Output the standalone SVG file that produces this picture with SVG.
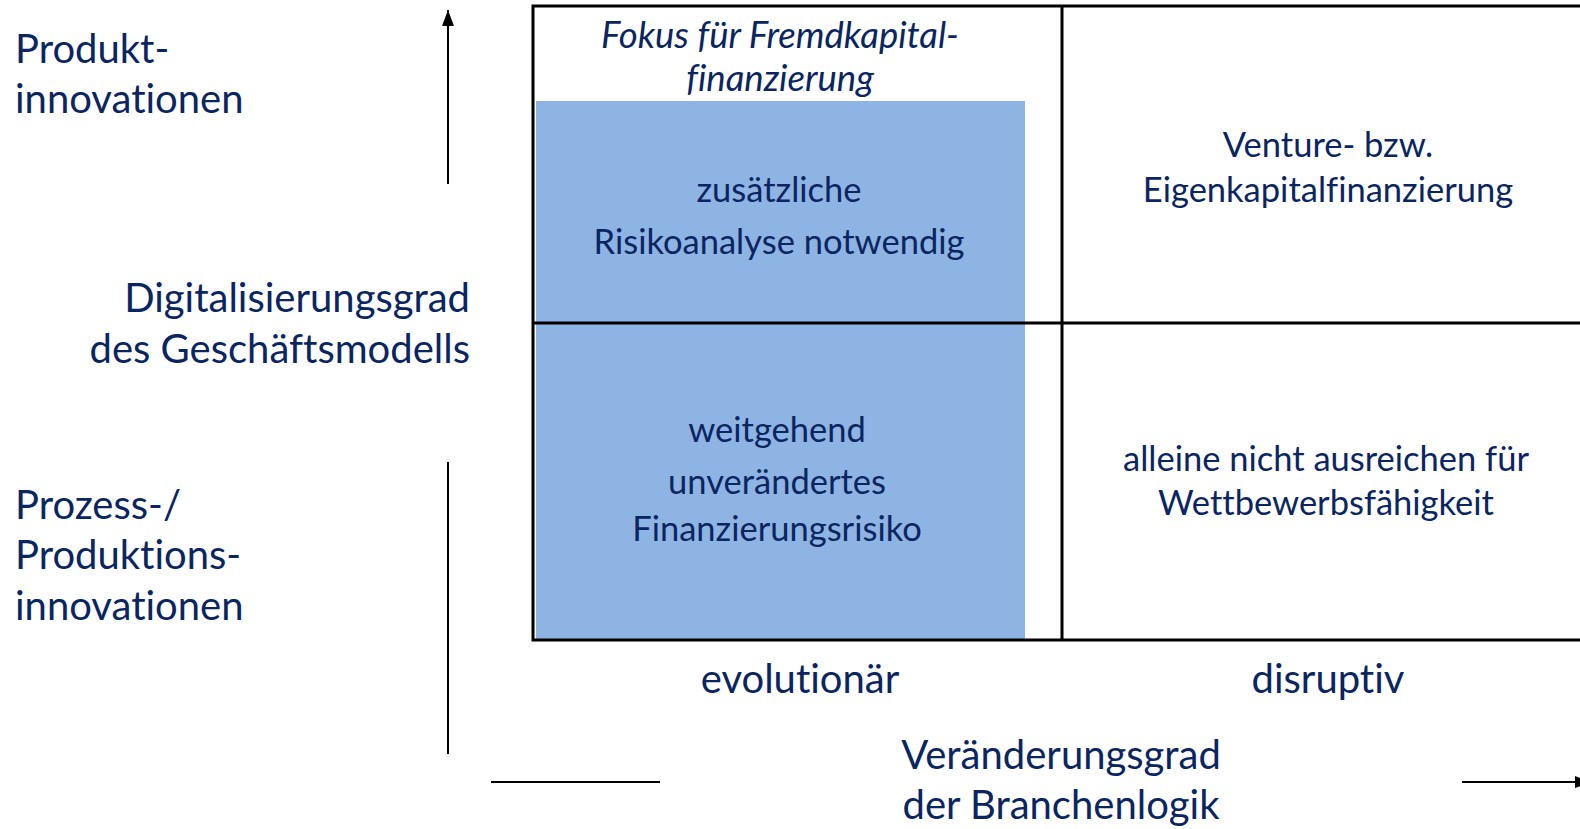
<svg xmlns="http://www.w3.org/2000/svg" width="1580" height="829" viewBox="0 0 1580 829">
<style>
text{font-family:Lato,"Noto Sans",sans-serif;fill:#0B2560;font-variant-ligatures:none;font-feature-settings:"liga" 0}
.ax{font-size:40px}
.q{font-size:34.5px;text-anchor:middle}
.f{font-size:36.5px;text-anchor:middle;font-style:italic}
.x{font-size:40px;text-anchor:middle}
.ln{stroke:#000;stroke-width:2;fill:none}
.bx{stroke:#000;stroke-width:3;fill:none}
</style>
<defs>
<marker id="ah" viewBox="0 0 16 12" refX="16" refY="6" markerWidth="16" markerHeight="12" orient="auto" markerUnits="userSpaceOnUse">
<path d="M0,0 L16,6 L0,12 z" fill="#000"/>
</marker>
</defs>
<g id="matrix">
<rect x="536" y="101" width="489" height="539" fill="#8EB4E3"/>
<path class="bx" d="M1582,6 H533 V640 H1582"/>
<line class="bx" x1="1062" y1="6" x2="1062" y2="640"/>
<line class="bx" x1="533" y1="323" x2="1582" y2="323"/>
</g>
<g id="focus">
<text class="f" x="780" y="48">Fokus für Fremdkapital-</text>
<text class="f" x="780" y="91">finanzierung</text>
</g>
<g id="q-top-left">
<text class="q" x="779" y="202">zusätzliche</text>
<text class="q" x="779" y="254">Risikoanalyse notwendig</text>
</g>
<g id="q-bottom-left">
<text class="q" x="777" y="442">weitgehend</text>
<text class="q" x="777" y="494">unverändertes</text>
<text class="q" x="777" y="541">Finanzierungsrisiko</text>
</g>
<g id="q-top-right">
<text class="q" x="1328" y="157">Venture- bzw.</text>
<text class="q" x="1328" y="202">Eigenkapitalfinanzierung</text>
</g>
<g id="q-bottom-right">
<text class="q" x="1326" y="471">alleine nicht ausreichen für</text>
<text class="q" x="1326" y="515">Wettbewerbsfähigkeit</text>
</g>
<g id="y-labels">
<text class="ax" x="15" y="63">Produkt-</text>
<text class="ax" x="15" y="113">innovationen</text>
<text class="ax" x="470" y="312" text-anchor="end">Digitalisierungsgrad</text>
<text class="ax" x="470" y="363" text-anchor="end">des Geschäftsmodells</text>
<text class="ax" x="15" y="519">Prozess-/</text>
<text class="ax" x="15" y="569">Produktions-</text>
<text class="ax" x="15" y="620">innovationen</text>
</g>
<g id="x-labels">
<text class="x" x="800" y="693">evolutionär</text>
<text class="x" x="1328" y="693">disruptiv</text>
<text class="x" x="1061" y="769">Veränderungsgrad</text>
<text class="x" x="1061" y="819">der Branchenlogik</text>
</g>
<g id="connectors">
<line class="ln" x1="448" y1="184" x2="448" y2="10" marker-end="url(#ah)"/>
<line class="ln" x1="448" y1="462" x2="448" y2="754"/>
<line class="ln" x1="491" y1="782" x2="660" y2="782"/>
<line class="ln" x1="1462" y1="782" x2="1591" y2="782" marker-end="url(#ah)"/>
</g>
</svg>
